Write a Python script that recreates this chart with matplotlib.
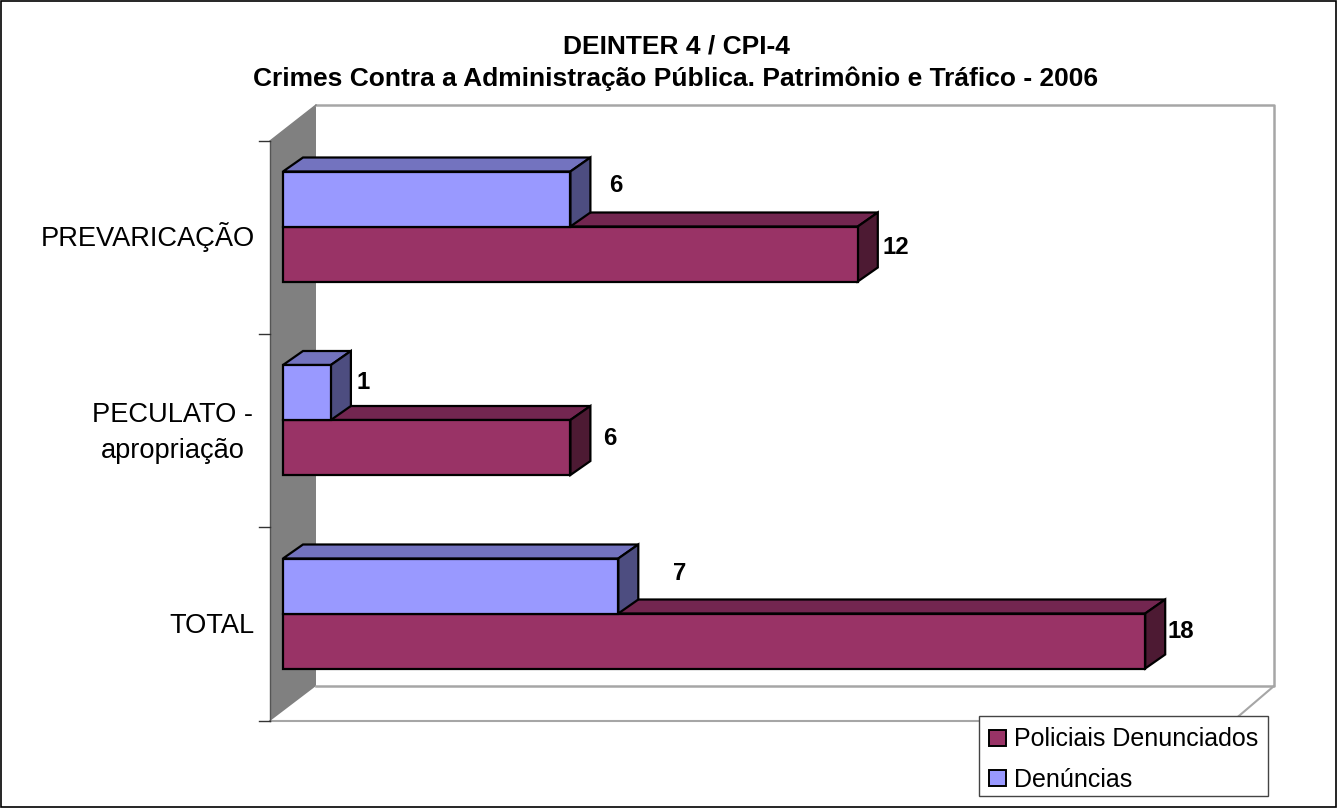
import matplotlib
matplotlib.use("Agg")
import matplotlib.pyplot as plt
from matplotlib.patches import Patch, Polygon, Rectangle

plt.rcParams['font.family'] = ['Liberation Sans', 'DejaVu Sans']

W, H = 1337, 808

title = "DEINTER 4 / CPI-4\nCrimes Contra a Administração Pública. Patrimônio e Tráfico - 2006"
categories = ["PREVARICAÇÃO", "PECULATO -\napropriação", "TOTAL"]
denuncias = [6, 1, 7]
policiais = [12, 6, 18]

BLUE = ("#9999FF", "#7373BF", "#4D4D80")  # front, top, side
RED = ("#993366", "#732650", "#4D1A33")

# scale of the bar axes, pixels
PX_PER_UNIT = 47.9
PX_PER_CAT = 193.5
X0, Y0 = 283, 227
DX, DY = 20 / PX_PER_UNIT, 14 / PX_PER_CAT
BAR_H = 55 / PX_PER_CAT

fig = plt.figure(figsize=(W / 100, H / 100), dpi=100, facecolor="white")

# chart frame, walls and floor in pixel coords
bg = fig.add_axes([0, 0, 1, 1])
bg.set_xlim(0, W)
bg.set_ylim(H, 0)
bg.axis("off")
bg.add_patch(Rectangle((0.5, 0.5), W - 1.5, H - 1.5, fc="white", ec="black", lw=1.2))
bg.add_patch(Polygon([(270, 141), (316, 105), (316, 686), (270, 721)], fc="#808080", ec="none"))
bg.plot([316, 1274, 1274, 316], [105, 105, 686, 686], color="#A6A6A6", lw=1.8)
bg.plot([270, 1233, 1274], [721, 721, 686], color="#A6A6A6", lw=1.5)
bg.plot([270, 270], [141, 721], color="#555555", lw=1)
bg.plot([270, 316], [141, 105], color="#808080", lw=1)
for y in [141, 334, 527, 721]:
    bg.plot([259, 270], [y, y], color="#333333", lw=1)

bg.text(676, 63, title, ha="center", va="center", fontsize=19, fontweight="bold", linespacing=1.42)

# legend box drawn by hand, the legend paddings can't give this height and width together
bg.add_patch(Rectangle((979, 716), 289, 80, fc="white", ec="#444444", lw=1, zorder=5))

# bars, y axis runs in category units
ax = fig.add_axes([0, 0, 1, 1])
ax.patch.set_alpha(0)
ax.set_xlim(-X0 / PX_PER_UNIT, (W - X0) / PX_PER_UNIT)
ax.set_ylim((H - Y0) / PX_PER_CAT, -Y0 / PX_PER_CAT)
ax.axis("off")


def bar3d(y, value, height, colors):
    ax.barh(y, value, height=height, left=0, color=colors[0], edgecolor="black", lw=1.6, zorder=3)
    top = y - height / 2
    bottom = y + height / 2
    ax.add_patch(Polygon([(0, top), (DX, top - DY), (value + DX, top - DY), (value, top)],
                         fc=colors[1], ec="black", lw=1.6, zorder=2))
    ax.add_patch(Polygon([(value, top), (value + DX, top - DY), (value + DX, bottom - DY), (value, bottom)],
                         fc=colors[2], ec="black", lw=1.6, zorder=2))


# red first so the blue bar sits over its top face
for i in range(len(categories)):
    bar3d(i + 27 / PX_PER_CAT, policiais[i], BAR_H, RED)
    bar3d(i - 28 / PX_PER_CAT, denuncias[i], BAR_H, BLUE)

blue_off = [45, 32, 61]
red_off = [38, 39, 36]
blue_dy = [-42, -38, -41]
red_dy = [20, 18, 17]
for i in range(len(categories)):
    ax.text(denuncias[i] + blue_off[i] / PX_PER_UNIT, i + blue_dy[i] / PX_PER_CAT, str(denuncias[i]),
            ha="center", va="center", fontsize=17.3, fontweight="bold", zorder=5)
    ax.text(policiais[i] + red_off[i] / PX_PER_UNIT, i + red_dy[i] / PX_PER_CAT, str(policiais[i]),
            ha="center", va="center", fontsize=17.3, fontweight="bold", zorder=5)

cat_dy = [10, 13, 12]
cat_right = [28, 30, 28]
for i, name in enumerate(categories):
    ax.text(-cat_right[i] / PX_PER_UNIT, i + cat_dy[i] / PX_PER_CAT, name, ha="right", va="center",
            multialignment="center", fontsize=19.6, linespacing=1.5)

handles = [Patch(fc=RED[0], ec="black", lw=1.4, label="Policiais Denunciados"),
           Patch(fc=BLUE[0], ec="black", lw=1.4, label="Denúncias")]
leg = ax.legend(handles=handles, loc="upper left", bbox_to_anchor=(989 / W, 1 - 727.5 / H),
                bbox_transform=fig.transFigure, fontsize=18, frameon=False,
                borderaxespad=0, handlelength=0.68, handleheight=0.6, handletextpad=0.3,
                labelspacing=0.66, borderpad=0)
leg.set_zorder(10)

fig.savefig("out.png", dpi=100)
